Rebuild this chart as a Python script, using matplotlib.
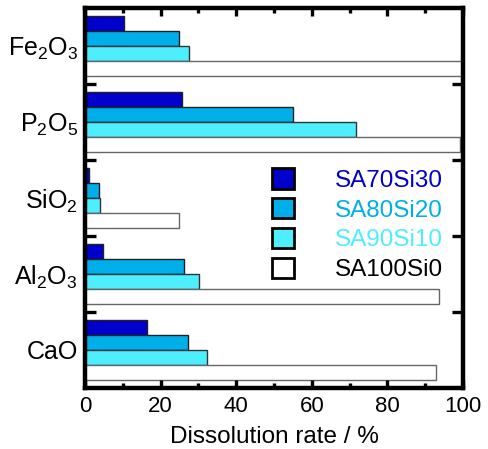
import matplotlib
matplotlib.use("Agg")
import matplotlib.pyplot as plt
from matplotlib.patches import Patch
import numpy as np

plt.rcParams['font.family'] = ['Liberation Sans', 'DejaVu Sans']
plt.rcParams['mathtext.fontset'] = 'custom'
plt.rcParams['mathtext.rm'] = 'Liberation Sans'
plt.rcParams['mathtext.it'] = 'Liberation Sans'

categories = ['CaO', r'Al$_2$O$_3$', r'SiO$_2$', r'P$_2$O$_5$', r'Fe$_2$O$_3$']
series_names = ['SA70Si30', 'SA80Si20', 'SA90Si10', 'SA100Si0']
sa70 = [16.5, 4.8, 1.0, 25.6, 10.3]
sa80 = [27.3, 26.3, 3.8, 55.0, 24.9]
sa90 = [32.4, 30.2, 4.0, 71.7, 27.6]
sa100 = [92.7, 93.5, 24.8, 99.3, 100.0]
colors = ['#0000CC', '#00AEEA', '#4DEEFF', '#FFFFFF']
edgecolors = ['#222222', '#222222', '#333333', '#666666']
text_colors = ['#0000CC', '#00AEEA', '#4DEEFF', '#000000']

fig = plt.figure(figsize=(4.88, 4.49), dpi=100)
ax = fig.add_axes([0.174, 0.136, 0.775, 0.846])

centers = np.arange(len(categories)) + 0.5
offsets = [0.3, 0.1, -0.1, -0.3]
for vals, off, c, ec in zip([sa70, sa80, sa90, sa100], offsets, colors, edgecolors):
    ax.barh(centers + off, vals, height=0.2, color=c, edgecolor=ec, linewidth=1.0)

ax.set_xlim(0, 100)
ax.set_ylim(0, 5)
ax.set_xticks([0, 20, 40, 60, 80, 100])
ax.set_xticks([10, 30, 50, 70, 90], minor=True)
ax.set_yticks(centers)
ax.set_yticklabels(categories)
ax.set_yticks([1, 2, 3, 4], minor=True)

for s in ax.spines.values():
    s.set_linewidth(3.2)

ax.tick_params(axis='x', which='major', direction='in', length=6, width=2.4,
               top=True, bottom=True, labelsize=16, pad=6)
ax.tick_params(axis='x', which='minor', direction='in', length=3.5, width=2.4,
               top=True, bottom=True)
ax.tick_params(axis='y', which='major', length=0, labelsize=18, pad=5)
ax.tick_params(axis='y', which='minor', direction='in', length=8, width=2.4,
               left=True, right=True)

ax.set_xlabel('Dissolution rate / %', fontsize=17.5, labelpad=6)

handles = [Patch(facecolor=c, edgecolor='black', linewidth=2) for c in colors]
leg = ax.legend(handles, series_names, loc='upper left', bbox_to_anchor=(0.495, 0.578),
                frameon=False, fontsize=17.5, handlelength=0.9, handleheight=0.9,
                handletextpad=1.69, labelspacing=0.26, borderpad=0, borderaxespad=0,
                labelcolor=text_colors)

fig.savefig('out.png', dpi=100)
